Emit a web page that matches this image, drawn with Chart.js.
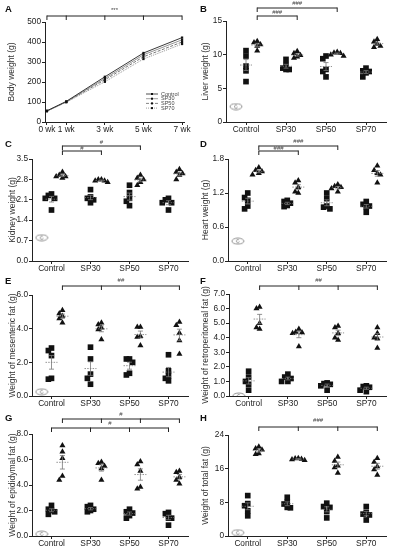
<!DOCTYPE html>
<html><head><meta charset="utf-8">
<script src="https://cdn.jsdelivr.net/npm/chart.js@4.4.1/dist/chart.umd.min.js"></script>
<style>
html,body{margin:0;padding:0;background:#fff;}
#fig{position:relative;width:393px;height:550px;overflow:hidden;}
#fig canvas{position:absolute;}
.lbl{position:absolute;font:bold 9.5px "Liberation Sans",Arial,sans-serif;color:#111;}
</style></head><body>
<div id="fig">
<canvas id="cA" width="196" height="145" style="left:0;top:0"></canvas>
<canvas id="cB" width="197" height="145" style="left:196px;top:0"></canvas>
<canvas id="cC" width="196" height="145" style="left:0;top:135px"></canvas>
<canvas id="cD" width="197" height="145" style="left:196px;top:135px"></canvas>
<canvas id="cE" width="196" height="145" style="left:0;top:270px"></canvas>
<canvas id="cF" width="197" height="145" style="left:196px;top:270px"></canvas>
<canvas id="cG" width="196" height="145" style="left:0;top:405px"></canvas>
<canvas id="cH" width="197" height="145" style="left:196px;top:405px"></canvas>
<div class="lbl" style="left:5px;top:3px">A</div>
<div class="lbl" style="left:200px;top:3px">B</div>
<div class="lbl" style="left:5px;top:138px">C</div>
<div class="lbl" style="left:200px;top:138px">D</div>
<div class="lbl" style="left:5px;top:275px">E</div>
<div class="lbl" style="left:200px;top:275px">F</div>
<div class="lbl" style="left:5px;top:412px">G</div>
<div class="lbl" style="left:200px;top:412px">H</div>
</div>
<script>
const groups = ['Control', 'SP30', 'SP50', 'SP70'];
const weeks = [0, 1, 3, 5, 7];
const weekLabels = ['0 wk', '1 wk', '3 wk', '5 wk', '7 wk'];
const bodyControl = [56, 103, 226, 345, 422];
const bodySP30 = [55, 101, 218, 336, 411];
const bodySP50 = [55, 100, 211, 326, 400];
const bodySP70 = [54, 99, 201, 315, 390];

// squares / triangles per group (Control, SP30, SP50, SP70)
const liverSq = [[10.6, 9.8, 8.3, 7.6, 6.0], [9.3, 8.5, 8.0, 7.8, 7.8], [9.8, 9.4, 7.8, 7.5, 6.7], [8.0, 7.6, 7.5, 7.3, 6.7]];
const liverTri = [[12.0, 11.8, 11.5, 11.3, 10.6], [10.5, 10.2, 9.9, 9.7, 9.5], [10.4, 10.3, 10.2, 10.0, 9.8], [12.3, 11.9, 11.6, 11.3, 11.1]];
const kidneySq = [[2.3, 2.25, 2.15, 2.15, 1.75], [2.45, 2.2, 2.15, 2.1, 2.0], [2.6, 2.35, 2.15, 2.05, 1.9], [2.15, 2.1, 2.0, 2.0, 1.75]];
const kidneyTri = [[3.05, 2.95, 2.9, 2.9, 2.85], [2.8, 2.8, 2.75, 2.75, 2.7], [2.95, 2.85, 2.8, 2.7, 2.6], [3.15, 3.05, 3.0, 2.95, 2.8]];
const heartSq = [[1.2, 1.12, 1.07, 0.97, 0.92], [1.07, 1.05, 1.02, 0.98, 0.96], [1.2, 1.1, 0.97, 0.95, 0.92], [1.05, 1.0, 0.97, 0.95, 0.86]];
const heartTri = [[1.65, 1.6, 1.58, 1.55, 1.52], [1.42, 1.38, 1.3, 1.22, 1.2], [1.35, 1.32, 1.3, 1.28, 1.22], [1.68, 1.6, 1.55, 1.52, 1.38]];
const mesSq = [[2.85, 2.7, 2.4, 1.05, 1.0], [2.9, 2.2, 1.3, 1.05, 0.7], [2.2, 2.2, 2.0, 1.35, 1.25], [2.45, 1.5, 1.2, 1.05, 0.9]];
const mesTri = [[5.1, 4.9, 4.75, 4.6, 4.35], [4.35, 4.25, 4.05, 3.95, 3.35], [4.1, 4.1, 3.55, 3.5, 3.0], [4.4, 4.2, 3.75, 3.3, 2.5]];
const retroSq = [[1.7, 1.3, 1.0, 0.8, 0.4], [1.5, 1.3, 1.2, 1.0, 1.0], [0.9, 0.85, 0.8, 0.7, 0.4], [0.7, 0.65, 0.6, 0.4, 0.3]];
const retroTri = [[6.1, 6.0, 5.0, 4.7, 4.6], [4.6, 4.4, 4.35, 4.3, 3.4], [4.8, 4.7, 4.3, 4.0, 3.85], [4.7, 4.3, 4.0, 3.95, 3.3]];
const epiSq = [[2.4, 2.1, 2.0, 1.9, 1.7], [2.4, 2.3, 2.1, 2.0, 1.9], [2.1, 1.9, 1.8, 1.6, 1.4], [1.85, 1.75, 1.4, 1.4, 0.85]];
const epiTri = [[7.1, 6.6, 6.1, 4.7, 4.4], [5.8, 5.7, 5.5, 5.3, 4.4], [5.85, 5.6, 5.1, 3.85, 3.7], [5.1, 5.0, 4.6, 4.4, 4.1]];
const totalSq = [[9.6, 7.7, 7.2, 6.0, 4.8], [9.2, 8.0, 7.6, 6.8, 6.7], [7.8, 7.0, 6.8, 5.8, 4.3], [7.0, 5.6, 5.2, 5.0, 3.8]];
const totalTri = [[21.2, 20.8, 20.5, 19.6, 19.4], [18.5, 18.4, 18.3, 18.2, 18.0], [18.8, 17.8, 16.7, 16.3, 15.0], [18.5, 17.6, 16.5, 15.8, 14.5]];
const iconValues = [2.3, 0.8, 0.35, 0.25, 0.0, 0.15, 0.8];

const FONT = '"Liberation Sans", Arial, sans-serif';
const INK = '#222';
const sqX = g => g;
const triX = g => g + 0.28;
const ICON_X = -0.25;

// little hollow marker near the origin
const icon = document.createElement('canvas');
icon.width = 14; icon.height = 8;
(() => {
    const c = icon.getContext('2d');
    c.strokeStyle = '#888'; c.lineWidth = 0.9;
    c.beginPath(); c.ellipse(7, 4, 6, 3, 0, 0, Math.PI * 2); c.stroke();
    c.beginPath(); c.arc(7, 4, 1.5, 0.3, 5.5); c.stroke();
})();

function swarm(vals, cx, thr) {
    const placed = [];
    const step = 0.08;
    vals.slice().sort((a, b) => b - a).forEach(v => {
        for (const k of [0, -1, 1, -2, 2]) {
            const x = cx + k * step;
            if (!placed.some(p => Math.abs(p.y - v) < thr && Math.abs(p.x - x) < step * 0.9)) {
                placed.push({ x: x, y: v });
                break;
            }
        }
    });
    return placed;
}

const statsPlugin = {
    id: 'stats',
    afterDatasetsDraw(chart) {
        const { ctx, scales: { x, y } } = chart;
        chart.data.datasets.forEach(ds => {
            if (!ds.groupsData) return;
            ds.groupsData.forEach((vals, g) => {
                const n = vals.length;
                const mean = vals.reduce((a, b) => a + b, 0) / n;
                const sd = Math.sqrt(vals.reduce((a, b) => a + (b - mean) ** 2, 0) / (n - 1));
                const sem = sd / Math.sqrt(n);
                const cx = x.getPixelForValue(ds.colX(g));
                const ym = y.getPixelForValue(mean);
                const y1 = y.getPixelForValue(mean + sem);
                const y2 = y.getPixelForValue(mean - sem);
                ctx.save();
                ctx.strokeStyle = '#777';
                ctx.lineWidth = 0.8;
                ctx.setLineDash([1.5, 1.2]);
                ctx.beginPath(); ctx.moveTo(cx - 6, ym); ctx.lineTo(cx + 6, ym); ctx.stroke();
                ctx.setLineDash([]);
                ctx.beginPath();
                ctx.moveTo(cx, y1); ctx.lineTo(cx, y2);
                ctx.moveTo(cx - 2.5, y1); ctx.lineTo(cx + 2.5, y1);
                ctx.moveTo(cx - 2.5, y2); ctx.lineTo(cx + 2.5, y2);
                ctx.stroke();
                ctx.restore();
            });
        });
    }
};

const bracketPlugin = {
    id: 'brackets',
    afterDraw(chart, args, opts) {
        const { ctx, scales: { x } } = chart;
        (opts.list || []).forEach(b => {
            const xs = b.cols.map(v => x.getPixelForValue(v));
            ctx.save();
            ctx.strokeStyle = INK;
            ctx.lineWidth = 1;
            ctx.beginPath();
            ctx.moveTo(xs[0], b.y); ctx.lineTo(xs[xs.length - 1], b.y);
            xs.forEach(px => { ctx.moveTo(px, b.y - 0.5); ctx.lineTo(px, b.y + 4); });
            ctx.stroke();
            ctx.fillStyle = '#444';
            ctx.font = '6px ' + FONT;
            ctx.textAlign = 'center';
            ctx.textBaseline = 'middle';
            ctx.fillText(b.text, (xs[0] + xs[xs.length - 1]) / 2, b.ty);
            ctx.restore();
        });
    }
};

function yScale(o) {
    return {
        min: 0, max: o.max,
        afterBuildTicks: s => { s.ticks = o.ticks.map(v => ({ value: v })); },
        ticks: { callback: v => v.toFixed(o.dec), color: INK, font: { family: FONT, size: 8.3 }, padding: 1 },
        grid: { drawOnChartArea: false, tickLength: 3, color: INK },
        border: { color: INK, width: 1 },
        title: { display: true, text: o.title, color: '#333', font: { family: FONT, size: 8.5 }, padding: 0 },
        afterFit: s => { s.width = o.axisX - o.padL; }
    };
}

function scatterPanel(id, o) {
    const cv = document.getElementById(id);
    const thr = o.max * 0.045;
    const sqData = [], triData = [];
    o.sq.forEach((vals, g) => sqData.push(...swarm(vals, sqX(g), thr)));
    o.tri.forEach((vals, g) => triData.push(...swarm(vals, triX(g), thr)));
    new Chart(cv, {
        type: 'scatter',
        data: {
            datasets: [
                { data: sqData, groupsData: o.sq, colX: sqX, pointStyle: 'rect', pointRadius: 4, backgroundColor: '#111', borderColor: '#111', borderWidth: 0 },
                { data: triData, groupsData: o.tri, colX: triX, pointStyle: 'triangle', pointRadius: 3.5, backgroundColor: '#111', borderColor: '#111', borderWidth: 0 },
                { data: [{ x: ICON_X, y: o.icon }], pointStyle: icon, pointRadius: 4 }
            ]
        },
        options: {
            responsive: false, animation: false,
            layout: { padding: { left: o.padL, top: o.top, right: cv.width - o.right, bottom: 0 } },
            plugins: { legend: { display: false }, tooltip: { enabled: false }, brackets: { list: o.brackets } },
            scales: {
                x: {
                    type: 'linear', min: -0.5, max: 3.5,
                    afterBuildTicks: s => { s.ticks = groups.map((_, i) => ({ value: i })); },
                    ticks: { callback: v => groups[v], autoSkip: false, maxRotation: 0, color: INK, font: { family: FONT, size: 8.3 }, padding: 0 },
                    grid: { drawOnChartArea: false, tickLength: 3, color: INK },
                    border: { color: INK, width: 1 },
                    afterFit: s => { s.height = cv.height - o.bottom; }
                },
                y: yScale(o)
            }
        },
        plugins: [statsPlugin, bracketPlugin]
    });
}

// Panel A
const legendPlugin = {
    id: 'miniLegend',
    afterDraw(chart) {
        const { ctx } = chart;
        chart.data.datasets.forEach((ds, i) => {
            const yy = 94 + i * 4.7;
            ctx.save();
            ctx.strokeStyle = ds.borderColor;
            ctx.lineWidth = 0.8;
            ctx.setLineDash(ds.borderDash || []);
            ctx.beginPath(); ctx.moveTo(146, yy); ctx.lineTo(158, yy); ctx.stroke();
            ctx.fillStyle = '#111';
            ctx.fillRect(151, yy - 1, 2, 2);
            ctx.fillStyle = '#444';
            ctx.font = '5.5px ' + FONT;
            ctx.textBaseline = 'middle';
            ctx.fillText(ds.label, 161, yy);
            ctx.restore();
        });
    }
};

const bodySeries = [
    { label: 'Control', vals: bodyControl, color: '#222', dash: [] },
    { label: 'SP30', vals: bodySP30, color: '#888', dash: [] },
    { label: 'SP50', vals: bodySP50, color: '#666', dash: [3, 1.5] },
    { label: 'SP70', vals: bodySP70, color: '#888', dash: [1, 1] }
];

new Chart(document.getElementById('cA'), {
    type: 'line',
    data: {
        datasets: bodySeries.map(s => ({
            label: s.label,
            data: weeks.map((w, i) => ({ x: w, y: s.vals[i] })),
            borderColor: s.color, borderDash: s.dash, borderWidth: 0.9,
            pointRadius: 1.6, pointStyle: 'rect', pointBackgroundColor: '#111', pointBorderWidth: 0
        }))
    },
    options: {
        responsive: false, animation: false,
        layout: { padding: { left: 7, top: 22, right: 196 - 184, bottom: 0 } },
        plugins: { legend: { display: false }, tooltip: { enabled: false },
            brackets: { list: [{ cols: weeks, y: 16, text: '***', ty: 10 }] } },
        scales: {
            x: {
                type: 'linear', min: -0.1, max: 7.1,
                afterBuildTicks: s => { s.ticks = weeks.map(v => ({ value: v })); },
                ticks: { callback: v => weekLabels[weeks.indexOf(v)], autoSkip: false, maxRotation: 0, color: INK, font: { family: FONT, size: 8.3 }, padding: 0 },
                grid: { drawOnChartArea: false, tickLength: 3, color: INK },
                border: { color: INK, width: 1 },
                afterFit: s => { s.height = 145 - 122; }
            },
            y: yScale({ max: 500, ticks: [0, 100, 200, 300, 400, 500], dec: 0, title: 'Body weight (g)', axisX: 45, padL: 7 })
        }
    },
    plugins: [bracketPlugin, legendPlugin]
});

scatterPanel('cB', { sq: liverSq, tri: liverTri, icon: iconValues[0], max: 15, ticks: [0, 5, 10, 15], dec: 0,
    title: 'Liver weight (g)', padL: 5, axisX: 30, top: 21, bottom: 122, right: 190,
    brackets: [{ cols: [triX(0), triX(2)], y: 8, text: '###', ty: 3 }, { cols: [triX(0), triX(1)], y: 16, text: '###', ty: 12 }] });
scatterPanel('cC', { sq: kidneySq, tri: kidneyTri, icon: iconValues[1], max: 3.5, ticks: [0, 0.7, 1.4, 2.1, 2.8, 3.5], dec: 1,
    title: 'Kidney weight (g)', padL: 8, axisX: 32, top: 24, bottom: 126, right: 188,
    brackets: [{ cols: [triX(0), triX(2)], y: 11, text: '#', ty: 7 }, { cols: [triX(0), triX(1)], y: 16, text: '#', ty: 13 }] });
scatterPanel('cD', { sq: heartSq, tri: heartTri, icon: iconValues[2], max: 1.8, ticks: [0, 0.6, 1.2, 1.8], dec: 1,
    title: 'Heart weight (g)', padL: 5, axisX: 32, top: 24, bottom: 126, right: 190,
    brackets: [{ cols: [triX(0), triX(2)], y: 11, text: '###', ty: 6 }, { cols: [triX(0), triX(1)], y: 16, text: '###', ty: 13 }] });
scatterPanel('cE', { sq: mesSq, tri: mesTri, icon: iconValues[3], max: 6, ticks: [0, 2, 4, 6], dec: 1,
    title: 'Weight of mesenteric fat (g)', padL: 8, axisX: 32, top: 25, bottom: 126, right: 188,
    brackets: [{ cols: [triX(0), triX(1), triX(2), triX(3)], y: 16, text: '##', ty: 10 }] });
scatterPanel('cF', { sq: retroSq, tri: retroTri, icon: iconValues[4], max: 7, ticks: [0, 1, 2, 3, 4, 5, 6, 7], dec: 1,
    title: 'Weight of retroperitoneal fat (g)', padL: 5, axisX: 33, top: 24, bottom: 126, right: 190,
    brackets: [{ cols: [triX(0), triX(1), triX(2), triX(3)], y: 16, text: '##', ty: 10 }] });
scatterPanel('cG', { sq: epiSq, tri: epiTri, icon: iconValues[5], max: 8, ticks: [0, 2, 4, 6, 8], dec: 1,
    title: 'Weight of epididymal fat (g)', padL: 8, axisX: 32, top: 29, bottom: 131, right: 188,
    brackets: [{ cols: [triX(0), triX(1), triX(2), triX(3)], y: 14, text: '#', ty: 9 },
        { cols: [sqX(0), sqX(1), sqX(2), sqX(3)], y: 23, text: '#', ty: 18 }] });
scatterPanel('cH', { sq: totalSq, tri: totalTri, icon: iconValues[6], max: 24, ticks: [0, 8, 16, 24], dec: 0,
    title: 'Weight of total fat (g)', padL: 5, axisX: 32, top: 30, bottom: 131, right: 190,
    brackets: [{ cols: [triX(0), triX(1), triX(2), triX(3)], y: 22, text: '###', ty: 15 }] });
</script>
</body></html>
